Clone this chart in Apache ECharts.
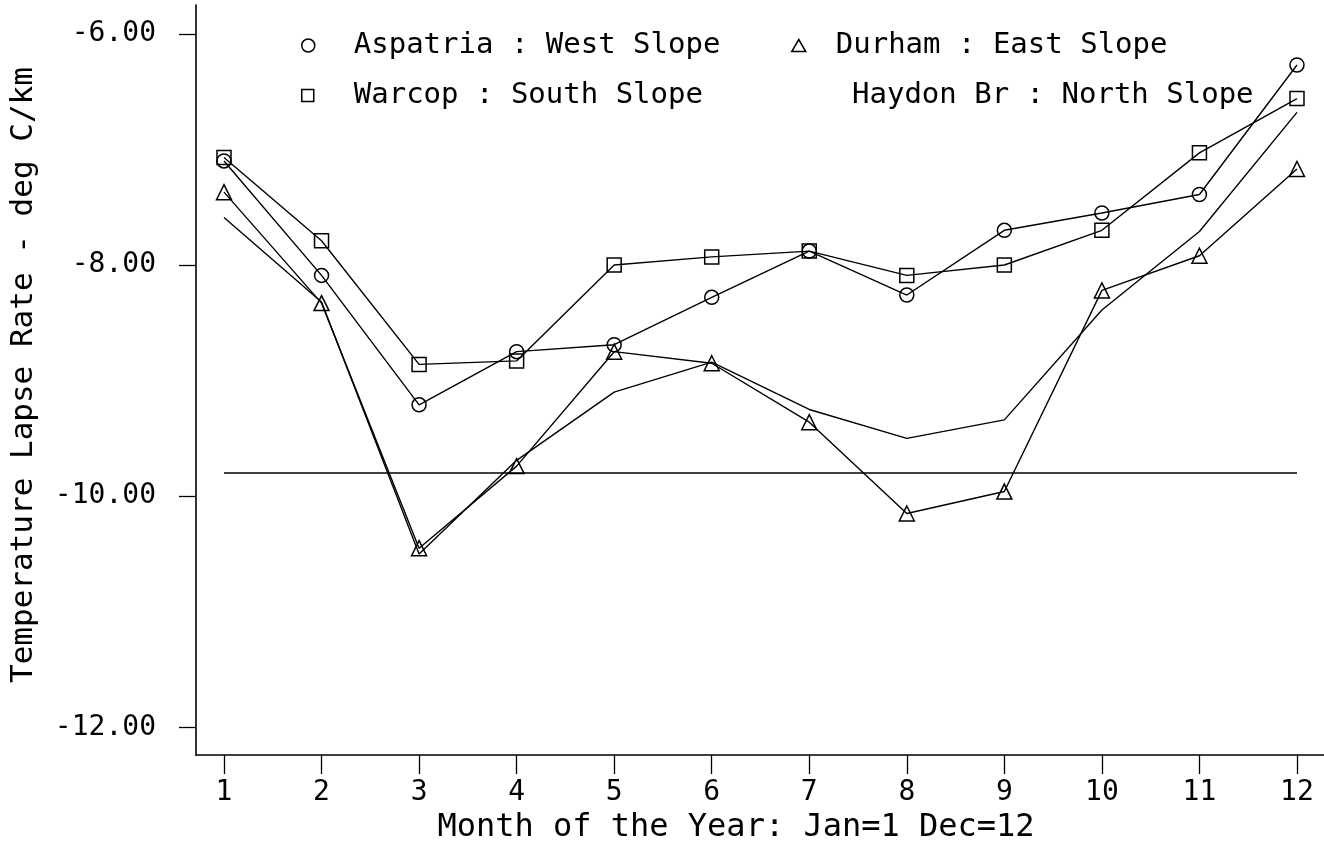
<!DOCTYPE html>
<html><head><meta charset="utf-8">
<script src="https://cdn.jsdelivr.net/npm/echarts@6/dist/echarts.min.js"></script>
<style>html,body{margin:0;padding:0;background:#fff}#c{width:1324px;height:849px}</style>
</head><body><div id="c"></div>
<script>
const months = [1,2,3,4,5,6,7,8,9,10,11,12];
const aspatria = [-7.10,-8.09,-9.21,-8.75,-8.69,-8.28,-7.88,-8.26,-7.70,-7.55,-7.39,-6.27];
const warcop   = [-7.07,-7.79,-8.86,-8.83,-8.00,-7.93,-7.88,-8.09,-8.00,-7.70,-7.03,-6.56];
const durham   = [-7.37,-8.33,-10.45,-9.74,-8.75,-8.85,-9.36,-10.15,-9.96,-8.22,-7.92,-7.17];
const haydon   = [-7.59,-8.32,-10.50,-9.69,-9.10,-8.84,-9.25,-9.50,-9.34,-8.39,-7.71,-6.68];
const refLine  = [[1,-9.8],[12,-9.8]];
const xTicks = [1,2,3,4,5,6,7,8,9,10,11,12];
const yTicks = [-12,-10,-8,-6];
const names = ['Aspatria : West Slope','Durham : East Slope','Warcop : South Slope','Haydon Br : North Slope'];

const FONT = 'DejaVu Sans Mono';
const pair = arr => months.map((m,i)=>[m,arr[i]]);
const lineStyle = {color:'#000', width:1.4};
const sym = {color:'transparent', borderColor:'#000', borderWidth:1.5};
function mk(name, data, symbol, size){
  return {name, type:'line', data:pair(data), symbol: symbol||'none', symbolSize: size||14,
    showSymbol: !!symbol, lineStyle, itemStyle:sym, z: 3};
}
const chart = echarts.init(document.getElementById('c'));
const legTxt = pad => ({fontFamily:FONT, fontSize:29, color:'#000', padding:[0,0,0,pad]});
const legItem = {color:'#fff', borderColor:'#000', borderWidth:1.5};
chart.setOption({
  animation:false,
  grid:{left:195, right:0, top:5, bottom:87},
  legend:[
    {left:296, top:26, itemGap:0, itemWidth:13, itemHeight:13, textStyle:legTxt(34), selectedMode:false,
     data:[{name:names[0], icon:'circle', itemStyle:legItem}]},
    {left:296, top:76, itemGap:0, itemWidth:12, itemHeight:12, textStyle:legTxt(35), selectedMode:false,
     data:[{name:names[2], icon:'rect', itemStyle:legItem}]},
    {left:786, top:26, itemGap:0, itemWidth:14, itemHeight:12, textStyle:legTxt(25), selectedMode:false,
     data:[{name:names[1], icon:'triangle', itemStyle:legItem}]},
    {left:828, top:76, itemGap:0, itemWidth:14, itemHeight:12, textStyle:legTxt(0), selectedMode:false,
     data:[{name:names[3], icon:'none'}]}
  ],
  xAxis:{type:'value', min:0.713, max:12.277,
    name:'Month of the Year: Jan=1 Dec=12', nameLocation:'middle', nameGap:56,
    nameTextStyle:{fontFamily:FONT, fontSize:32, color:'#000', padding:[0,48,0,0]},
    axisLine:{show:true, onZero:false, lineStyle:{color:'#000', width:1.6}},
    axisTick:{show:true, length:19, customValues:xTicks, lineStyle:{color:'#000', width:1.3}},
    axisLabel:{customValues:xTicks, fontFamily:FONT, fontSize:28, color:'#000', margin:24},
    splitLine:{show:false}},
  yAxis:{type:'value', min:-12.24, max:-5.751,
    name:'Temperature Lapse Rate - deg C/km', nameLocation:'middle', nameGap:157,
    nameTextStyle:{fontFamily:FONT, fontSize:31, color:'#000', padding:[0,0,0,10]},
    axisLine:{show:true, onZero:false, lineStyle:{color:'#000', width:1.6}},
    axisTick:{show:true, length:17, customValues:yTicks, lineStyle:{color:'#000', width:1.3}},
    axisLabel:{customValues:yTicks, fontFamily:FONT, fontSize:28, color:'#000', margin:40,
      formatter:v=>v.toFixed(2)},
    splitLine:{show:false}},
  series:[
    mk(names[0], aspatria, 'circle', 14),
    mk(names[1], durham, 'triangle', 15),
    mk(names[2], warcop, 'rect', 14),
    mk(names[3], haydon, null),
    {name:'ref', type:'line', data:refLine, symbol:'none', lineStyle:{color:'#000', width:1.4}, z:2}
  ]
});
</script></body></html>
